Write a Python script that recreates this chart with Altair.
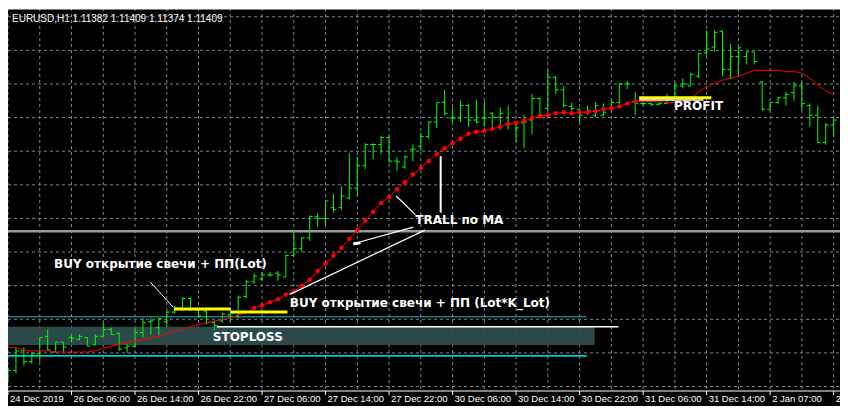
import json
import altair as alt
import pandas as pd

# ---------------- data ----------------
bar_index = list(range(105))
opens = [1.10887, 1.10922, 1.11009, 1.10961, 1.10996, 1.11074, 1.11004, 1.11048, 1.11069, 1.11061,
         1.11069, 1.11035, 1.11074, 1.11104, 1.11087, 1.11022, 1.11030, 1.11091, 1.11139, 1.11113,
         1.11139, 1.11182, 1.11200, 1.11243, 1.11191, 1.11187, 1.11135, 1.11143, 1.11169, 1.11165,
         1.11252, 1.11317, 1.11330, 1.11348, 1.11356, 1.11339, 1.11435, 1.11465, 1.11513, 1.11609,
         1.11600, 1.11648, 1.11648, 1.11691, 1.11735, 1.11835, 1.11930, 1.11930, 1.11961, 1.11856,
         1.11830, 1.11909, 1.11922, 1.11965, 1.12030, 1.12117, 1.12048, 1.12048, 1.12104, 1.12039,
         1.12048, 1.12069, 1.12052, 1.12017, 1.12026, 1.12026, 1.12039, 1.12135, 1.12091, 1.12230,
         1.12174, 1.12100, 1.12087, 1.12074, 1.12061, 1.12061, 1.12091, 1.12117, 1.12200, 1.12122,
         1.12113, 1.12113, 1.12109, 1.12113, 1.12135, 1.12191, 1.12191, 1.12235, 1.12339, 1.12365,
         1.12435, 1.12265, 1.12322, 1.12322, 1.12343, 1.12209, 1.12087, 1.12117, 1.12139, 1.12161,
         1.12191, 1.12104, 1.12061, 1.11939, 1.12017]
highs = [1.10935, 1.11026, 1.11026, 1.11004, 1.11069, 1.11104, 1.11048, 1.11048, 1.11082, 1.11082,
         1.11069, 1.11082, 1.11135, 1.11113, 1.11091, 1.11039, 1.11113, 1.11156, 1.11156, 1.11156,
         1.11187, 1.11209, 1.11248, 1.11248, 1.11200, 1.11196, 1.11143, 1.11178, 1.11191, 1.11256,
         1.11326, 1.11356, 1.11361, 1.11361, 1.11365, 1.11439, 1.11543, 1.11517, 1.11613, 1.11622,
         1.11678, 1.11709, 1.11743, 1.11891, 1.11874, 1.11935, 1.11935, 1.11969, 1.11969, 1.11874,
         1.11882, 1.11930, 1.11982, 1.12035, 1.12117, 1.12174, 1.12096, 1.12126, 1.12109, 1.12130,
         1.12122, 1.12074, 1.12096, 1.12104, 1.12035, 1.12061, 1.12156, 1.12139, 1.12265, 1.12235,
         1.12191, 1.12117, 1.12091, 1.12104, 1.12117, 1.12113, 1.12126, 1.12204, 1.12213, 1.12165,
         1.12122, 1.12122, 1.12122, 1.12156, 1.12204, 1.12226, 1.12248, 1.12339, 1.12439, 1.12439,
         1.12439, 1.12378, 1.12365, 1.12343, 1.12343, 1.12213, 1.12122, 1.12143, 1.12165, 1.12209,
         1.12209, 1.12113, 1.12104, 1.12026, 1.12048]
lows = [1.10874, 1.10909, 1.10943, 1.10952, 1.10961, 1.11013, 1.11004, 1.11004, 1.11048, 1.11056,
        1.11030, 1.11035, 1.11069, 1.11082, 1.11009, 1.11000, 1.11022, 1.11069, 1.11082, 1.11078,
        1.11117, 1.11174, 1.11187, 1.11187, 1.11156, 1.11126, 1.11104, 1.11135, 1.11139, 1.11156,
        1.11243, 1.11309, 1.11322, 1.11339, 1.11322, 1.11339, 1.11430, 1.11452, 1.11500, 1.11561,
        1.11569, 1.11626, 1.11639, 1.11687, 1.11700, 1.11822, 1.11865, 1.11887, 1.11848, 1.11813,
        1.11822, 1.11856, 1.11900, 1.11956, 1.12004, 1.12061, 1.12030, 1.12030, 1.12009, 1.12026,
        1.12009, 1.12004, 1.11996, 1.11996, 1.11943, 1.11913, 1.11974, 1.12052, 1.12082, 1.12156,
        1.12096, 1.12082, 1.12030, 1.12061, 1.12052, 1.12056, 1.12078, 1.12113, 1.12178, 1.12061,
        1.12104, 1.12100, 1.12104, 1.12109, 1.12130, 1.12182, 1.12191, 1.12226, 1.12326, 1.12343,
        1.12235, 1.12222, 1.12243, 1.12287, 1.12287, 1.12082, 1.12082, 1.12113, 1.12104, 1.12126,
        1.12082, 1.12009, 1.11939, 1.11930, 1.11965]
closes = [1.10922, 1.11009, 1.10961, 1.10996, 1.11069, 1.11013, 1.11048, 1.11026, 1.11065, 1.11074,
          1.11030, 1.11074, 1.11104, 1.11082, 1.11017, 1.11030, 1.11091, 1.11135, 1.11143, 1.11152,
          1.11182, 1.11200, 1.11243, 1.11196, 1.11165, 1.11135, 1.11122, 1.11174, 1.11178, 1.11248,
          1.11317, 1.11343, 1.11348, 1.11348, 1.11348, 1.11435, 1.11465, 1.11513, 1.11609, 1.11600,
          1.11678, 1.11639, 1.11700, 1.11735, 1.11835, 1.11930, 1.11930, 1.11961, 1.11856, 1.11852,
          1.11874, 1.11909, 1.11965, 1.12030, 1.12117, 1.12069, 1.12048, 1.12104, 1.12039, 1.12030,
          1.12048, 1.12052, 1.12069, 1.12022, 1.12004, 1.12030, 1.12135, 1.12061, 1.12230, 1.12174,
          1.12104, 1.12091, 1.12061, 1.12082, 1.12104, 1.12074, 1.12117, 1.12200, 1.12200, 1.12113,
          1.12113, 1.12109, 1.12113, 1.12117, 1.12191, 1.12200, 1.12243, 1.12335, 1.12356, 1.12430,
          1.12265, 1.12322, 1.12361, 1.12343, 1.12300, 1.12087, 1.12117, 1.12139, 1.12152, 1.12191,
          1.12113, 1.12061, 1.11939, 1.12017, 1.12039]
ma_values = [1.11026, 1.11022, 1.11013, 1.11009, 1.11009, 1.11009, 1.11004, 1.11004, 1.11004, 1.11004,
             1.11004, 1.11009, 1.11022, 1.11030, 1.11039, 1.11048, 1.11052, 1.11061, 1.11065, 1.11074,
             1.11087, 1.11096, 1.11104, 1.11117, 1.11126, 1.11135, 1.11143, 1.11148, 1.11156, 1.11169,
             1.11178, 1.11200, 1.11213, 1.11226, 1.11239, 1.11261, 1.11274, 1.11300, 1.11326, 1.11365,
             1.11400, 1.11435, 1.11469, 1.11509, 1.11548, 1.11591, 1.11630, 1.11669, 1.11696, 1.11730,
             1.11761, 1.11796, 1.11826, 1.11856, 1.11887, 1.11913, 1.11935, 1.11956, 1.11978, 1.11987,
             1.11991, 1.12000, 1.12009, 1.12022, 1.12026, 1.12035, 1.12048, 1.12056, 1.12061, 1.12069,
             1.12074, 1.12069, 1.12074, 1.12074, 1.12078, 1.12087, 1.12091, 1.12100, 1.12113, 1.12122,
             1.12122, 1.12122, 1.12122, 1.12117, 1.12117, 1.12122, 1.12135, 1.12165, 1.12187, 1.12204,
             1.12217, 1.12226, 1.12235, 1.12248, 1.12261, 1.12261, 1.12261, 1.12261, 1.12256, 1.12256,
             1.12248, 1.12226, 1.12196, 1.12169, 1.12152]
ma_dot_first, ma_dot_last = 31, 79

tick_labels = ["24 Dec 2019", "26 Dec 06:00", "26 Dec 14:00", "26 Dec 22:00", "27 Dec 06:00",
               "27 Dec 14:00", "27 Dec 22:00", "30 Dec 06:00", "30 Dec 14:00", "30 Dec 22:00",
               "31 Dec 06:00", "31 Dec 14:00", "2 Jan 07:00", "2 Jan 15:00"]
label_bars = list(range(0, 105, 8))
grid_bars = list(range(0, 105, 4))
price_grid = [1.1250, 1.1235, 1.1220, 1.1205, 1.1190, 1.1175, 1.1160, 1.1145, 1.1130, 1.1115, 1.1100, 1.1085]
title_text = ["EURUSD,H1  1.11382 1.11409 1.11374 1.11409"]

# stop-loss zone and levels
zone_x = [0.0]; zone_x2 = [73.9]; zone_lo = [1.11035]; zone_hi = [1.11117]
level_names = ["upper", "lower", "hline"]
level_prices = [1.11161, 1.10987, 1.11543]
level_x2 = [72.9, 72.9, 104.8]
yellow_x = [20.9, 28.06, 79.5]
yellow_x2 = [28.06, 35.2, 88.6]
yellow_price = [1.11196, 1.11182, 1.12139]

# white annotation segments
seg_x = [17.9, 54.5, 48.9, 51.05, 52.5, 26.3, 79.5, 43.5]
seg_x2 = [20.8, 54.5, 51.3, 43.5, 35.5, 76.9, 87.6, 44.4]
seg_y = [1.11317, 1.11878, 1.11700, 1.11561, 1.11548, 1.11117, 1.12128, 1.11487]
seg_y2 = [1.11204, 1.11626, 1.11617, 1.11487, 1.11261, 1.11117, 1.12128, 1.11491]
seg_w = [1, 2, 1.2, 1.2, 1.2, 1.5, 1.5, 3]

note_text = ["BUY открытие свечи + ПП(Lot)", "BUY открытие свечи + ПП (Lot*K_Lot)", "TRALL по MA", "STOPLOSS", "PROFIT"]
note_x = [5.8, 35.5, 51.3, 25.8, 83.9]
note_y = [1.11396, 1.11222, 1.11591, 1.11069, 1.12100]

# ---------------- chart ----------------
W, H = 832, 383
GRID = "#778899"
GREEN = "#00ff00"
RED = "#ff0000"

xscale = alt.Scale(domain=[0, 104.8], nice=False, zero=False)
yscale = alt.Scale(domain=[1.10830, 1.12539], nice=False, zero=False)

grid_df = pd.DataFrame({"k": grid_bars})
price_df = pd.DataFrame({"p": price_grid})
label_df = pd.DataFrame({"k": label_bars, "t": tick_labels})

vgrid = alt.Chart(grid_df).mark_rule(color=GRID, strokeDash=[3, 3], strokeWidth=1).encode(
    x=alt.X("k:Q", scale=xscale, axis=None), y=alt.value(0), y2=alt.value(H))
hgrid = alt.Chart(price_df).mark_rule(color=GRID, strokeDash=[3, 3], strokeWidth=1).encode(
    y=alt.Y("p:Q", scale=yscale, axis=None), x=alt.value(0), x2=alt.value(W))
axis_line = alt.Chart(pd.DataFrame({"t": title_text})).mark_rule(color="white", strokeWidth=1.2).encode(
    x=alt.value(0), x2=alt.value(W), y=alt.value(H))
axis_ticks = alt.Chart(label_df).mark_rule(color="white", strokeWidth=1).encode(
    x=alt.X("k:Q", scale=xscale, axis=None), y=alt.value(H), y2=alt.value(H + 4))
axis_labels = alt.Chart(label_df).mark_text(align="left", baseline="top", color="white",
                                            font="Liberation Sans", fontSize=9.5, dx=2).encode(
    x=alt.X("k:Q", scale=xscale, axis=None), y=alt.value(H + 3), text="t:N")

bars = pd.DataFrame({"k": bar_index, "open": opens, "high": highs, "low": lows, "close": closes})
bars["kl"] = bars["k"] - 0.37
bars["kr"] = bars["k"] + 0.37
ma = pd.DataFrame({"k": bar_index, "ma": ma_values})
dots = ma[(ma["k"] >= ma_dot_first) & (ma["k"] <= ma_dot_last)]

zone = pd.DataFrame({"x": zone_x, "x2": zone_x2, "lo": zone_lo, "hi": zone_hi})
levels = pd.DataFrame({"name": level_names, "p": level_prices, "x2": level_x2, "x": [0.0] * 3})
yellow = pd.DataFrame({"x": yellow_x, "x2": yellow_x2, "p": yellow_price})
segs = pd.DataFrame({"x": seg_x, "x2": seg_x2, "y": seg_y, "y2": seg_y2, "w": seg_w})
notes = pd.DataFrame({"t": note_text, "x": note_x, "y": note_y})

zone_layer = alt.Chart(zone).mark_rect(color="#2f4f4f", opacity=0.92).encode(
    x=alt.X("x:Q", scale=xscale, axis=None), x2="x2:Q",
    y=alt.Y("lo:Q", scale=yscale, axis=None), y2="hi:Q")

level_layer = alt.Chart(levels).mark_rule().encode(
    x=alt.X("x:Q", scale=xscale, axis=None), x2="x2:Q",
    y=alt.Y("p:Q", scale=yscale, axis=None),
    color=alt.Color("name:N", scale=alt.Scale(domain=level_names, range=["#23b7c4", "#00c9d6", "#9a9a9a"]), legend=None),
    strokeWidth=alt.StrokeWidth("name:N", scale=alt.Scale(domain=level_names, range=[1, 2.5, 1]), legend=None))

hilo = alt.Chart(bars).mark_rule(color=GREEN, strokeWidth=1).encode(
    x=alt.X("k:Q", scale=xscale, axis=None),
    y=alt.Y("low:Q", scale=yscale, axis=None), y2="high:Q")
open_tick = alt.Chart(bars).mark_rule(color=GREEN, strokeWidth=1).encode(
    x=alt.X("kl:Q", scale=xscale, axis=None), x2="k:Q",
    y=alt.Y("open:Q", scale=yscale, axis=None))
close_tick = alt.Chart(bars).mark_rule(color=GREEN, strokeWidth=1).encode(
    x=alt.X("k:Q", scale=xscale, axis=None), x2="kr:Q",
    y=alt.Y("close:Q", scale=yscale, axis=None))

ma_line = alt.Chart(ma).mark_line(color=RED, strokeWidth=1).encode(
    x=alt.X("k:Q", scale=xscale, axis=None), y=alt.Y("ma:Q", scale=yscale, axis=None))
ma_dots = alt.Chart(dots).mark_circle(color=RED, size=20, opacity=1).encode(
    x=alt.X("k:Q", scale=xscale, axis=None), y=alt.Y("ma:Q", scale=yscale, axis=None))

yellow_layer = alt.Chart(yellow).mark_rule(color="#ffff00", strokeWidth=3).encode(
    x=alt.X("x:Q", scale=xscale, axis=None), x2="x2:Q",
    y=alt.Y("p:Q", scale=yscale, axis=None))

seg_layer = alt.Chart(segs).mark_rule(color="white").encode(
    x=alt.X("x:Q", scale=xscale, axis=None), x2="x2:Q",
    y=alt.Y("y:Q", scale=yscale, axis=None), y2="y2:Q",
    strokeWidth=alt.StrokeWidth("w:Q", scale=None, legend=None))

note_layer = alt.Chart(notes).mark_text(align="left", baseline="middle", color="white",
                                         font="DejaVu Sans", fontWeight="bold", fontSize=12).encode(
    x=alt.X("x:Q", scale=xscale, axis=None), y=alt.Y("y:Q", scale=yscale, axis=None), text="t:N")

top_line = alt.Chart(pd.DataFrame({"t": title_text})).mark_rule(color="white", strokeWidth=1.5).encode(
    x=alt.value(0), x2=alt.value(W), y=alt.value(0.75))
title_layer = alt.Chart(pd.DataFrame({"t": title_text})).mark_text(
    align="left", baseline="middle", color="white", font="Liberation Sans", fontSize=10).encode(
    text="t:N", x=alt.value(4), y=alt.value(11))

chart = alt.layer(vgrid, hgrid, zone_layer, level_layer, hilo, open_tick, close_tick, ma_line, ma_dots,
                  yellow_layer, seg_layer, note_layer, axis_line, axis_ticks, axis_labels,
                  top_line, title_layer).properties(
    width=W, height=H,
    autosize=alt.AutoSizeParams(type="none"),
    padding={"left": 0, "top": 0, "right": 0, "bottom": 15},
    background="black",
).configure_view(strokeWidth=0)

chart.save("out.html", embed_options={"renderer": "svg", "actions": False})
